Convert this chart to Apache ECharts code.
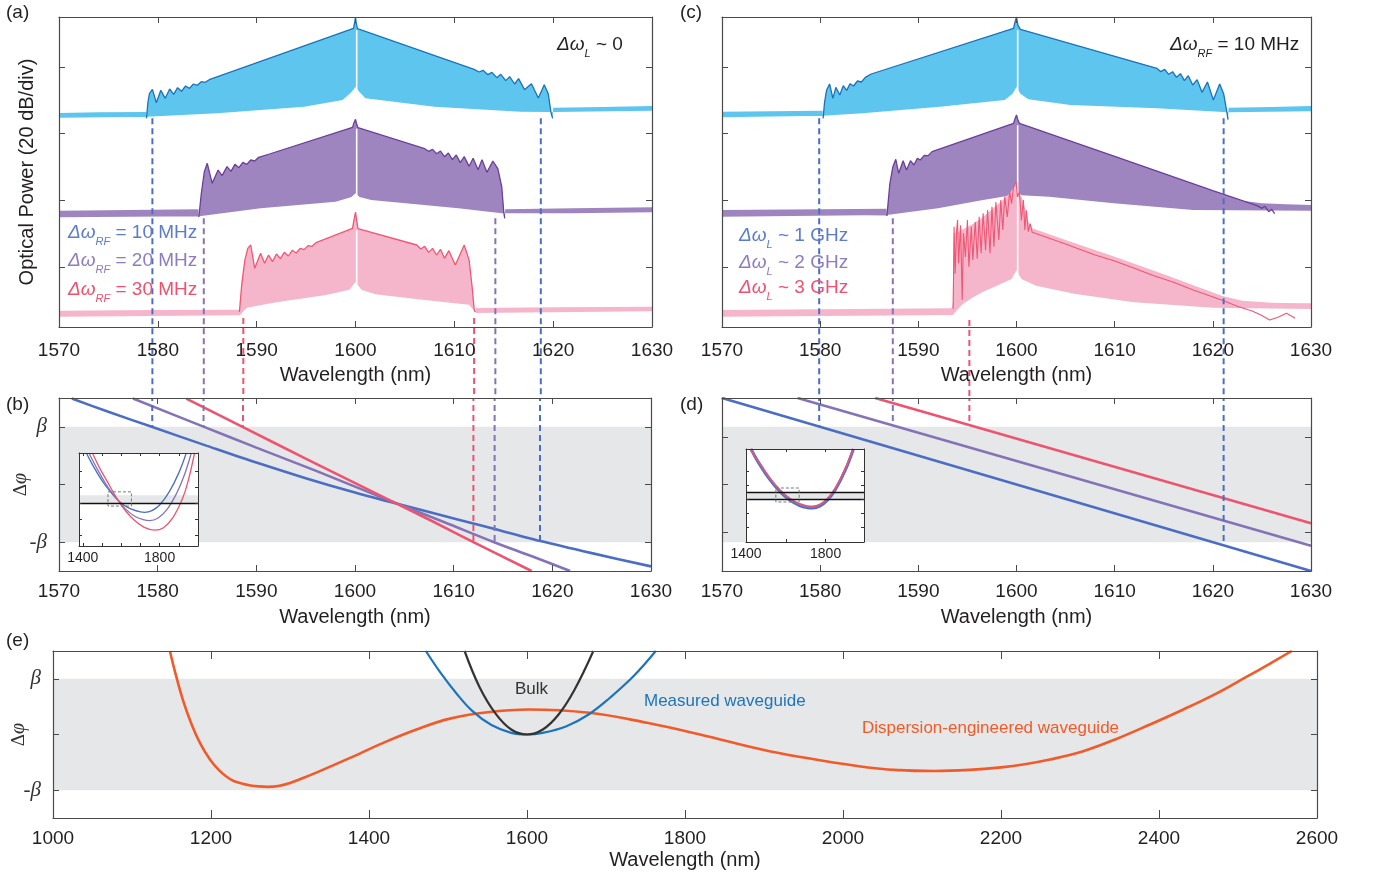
<!DOCTYPE html>
<html><head><meta charset="utf-8">
<script src="https://cdn.jsdelivr.net/npm/echarts@6/dist/echarts.min.js"></script>
<style>html,body{margin:0;padding:0;background:#fff}#c{width:1386px;height:877px}</style>
</head><body><div id="c"></div><script>
// ---------------- DATA ----------------
const wlTicks = [1570, 1580, 1590, 1600, 1610, 1620, 1630];
const eTicks = [1000, 1200, 1400, 1600, 1800, 2000, 2200, 2400, 2600];
const powTicks = [0, 20, 40, 60];            // 20 dB/div
const phiTicks = [-1, 0, 1];                 // -beta, 0, beta
const phiLabels = [-1, 1];
const dPhiTicks = [-0.82, 0, 0.82];
const insetTicksB = [1400, 1500, 1600, 1700, 1800, 1900];
const insetTicksD = [1600, 1800];
const insetLabels = [1400, 1800];
const insetYTicks = [-4, -2, 0, 2, 4];

// (a) spectra [wavelength nm, dB]
const cyanTopLA = [[1570,46.2],[1574,46.4],[1578.8,46.5]];
const cyanEnvA = [[1578.85,44.6],[1579.0,49.5],[1579.15,52.0],[1579.45,53.3],[1579.85,49.3],[1580.3,53.0],[1580.75,50.6],[1581.2,53.4],[1581.6,51.8],[1582.0,53.8],[1582.4,52.7],[1582.8,54.3],[1583.2,53.6],[1583.6,54.9],[1584.0,54.5],[1584.4,55.6],[1584.8,55.4],[1585.2,56.2],[1599.8,71.6],[1599.93,73.6],[1600.0,75.0],[1600.07,73.2],[1600.2,71.5],[1612.0,59.3],[1612.5,58.5],[1612.9,59.0],[1613.4,57.7],[1613.8,58.4],[1614.3,56.8],[1614.7,57.8],[1615.2,55.9],[1615.6,57.1],[1616.1,54.9],[1616.5,56.5],[1617.1,53.2],[1617.8,55.0],[1618.5,50.7],[1619.1,54.7],[1619.5,52.0],[1619.8,46.0],[1619.95,44.6]];
const cyanTopRA = [[1620.0,47.8],[1625,48.0],[1630,48.3]];
const cyanFloorA = [[1570,44.8],[1578.9,45.1],[1586,46.1],[1594.8,48.1],[1598.7,50.1],[1599.6,52.5],[1600,54],[1600.4,52.5],[1601,50.6],[1608,48.1],[1616.7,46.6],[1620,46.5],[1630,46.9]];
const cyanGapA = [[1600.12,51],[1600.12,71]];

const purpleTopLA = [[1570,16.9],[1577,17.1],[1584.1,17.3]];
const purpleEnvA = [[1584.15,15.0],[1584.4,22],[1584.7,28.5],[1585.0,31.1],[1585.5,25.1],[1586.1,29.1],[1586.5,27.4],[1587.0,30.1],[1587.4,28.7],[1587.8,30.8],[1588.2,29.8],[1588.6,31.4],[1589.0,30.8],[1589.4,32.1],[1589.8,31.8],[1590.2,32.9],[1591.3,33.9],[1599.7,41.9],[1599.85,43.3],[1600.0,44.3],[1600.12,42.8],[1600.25,41.8],[1607.0,35.5],[1607.4,34.7],[1607.8,35.3],[1608.2,34.0],[1608.6,34.8],[1609.0,33.1],[1609.4,34.2],[1609.8,32.2],[1610.2,33.6],[1610.6,31.3],[1611.0,33.1],[1611.5,30.2],[1611.9,32.6],[1612.4,29.2],[1612.8,32.2],[1613.3,28.4],[1613.9,31.8],[1614.4,29.5],[1614.8,24.0],[1615.0,16.5],[1615.1,14.6]];
const purpleTopRA = [[1615.15,17.3],[1622,17.6],[1630,17.9]];
const purpleFloorA = [[1570,14.9],[1584.2,15.2],[1590.4,17.6],[1598,19.6],[1599.6,21],[1600,22.1],[1600.4,21],[1601.6,20.1],[1610.4,17.6],[1614.8,16.1],[1622,16.1],[1630,16.4]];
const purpleGapA = [[1600.12,21],[1600.12,41.5]];

const pinkTopLA = [[1570,-13.1],[1580,-12.9],[1588.2,-12.8]];
const pinkEnvA = [[1588.25,-13.5],[1588.5,-5],[1588.8,2],[1589.1,5.6],[1589.4,6.6],[1589.8,-0.4],[1590.4,4.1],[1590.8,1.1],[1591.2,3.6],[1591.6,1.6],[1592.0,3.9],[1592.4,2.5],[1592.8,4.4],[1593.2,3.3],[1593.6,5.0],[1594.0,4.2],[1594.4,5.6],[1594.8,5.2],[1595.2,6.4],[1595.6,6.2],[1596.0,7.3],[1599.7,11.6],[1599.87,14.5],[1600.0,16.5],[1600.12,14],[1600.25,11.5],[1606.2,6.6],[1606.6,5.4],[1607.0,6.2],[1607.4,4.4],[1607.8,5.6],[1608.2,3.6],[1608.6,5.3],[1609.0,2.6],[1609.45,4.9],[1610.1,0.6],[1611.0,6.6],[1611.5,2.0],[1611.8,-6.0],[1612.0,-12.5],[1612.1,-13.5]];
const pinkTopRA = [[1612.2,-12.3],[1620,-12.1],[1630,-11.9]];
const pinkFloorA = [[1570,-14.9],[1588.3,-14.5],[1589.0,-12.2],[1592,-10.6],[1597,-8.4],[1599.4,-6.8],[1600,-4.5],[1600.6,-6.8],[1602,-8.2],[1607,-9.9],[1611.5,-11.3],[1612.2,-13.8],[1630,-13.3]];
const pinkGapA = [[1600.12,-5.5],[1600.12,11]];

// (c) spectra
const cyanTopLC = [[1570,46.6],[1575,46.7],[1580.25,46.9]];
const cyanEnvC = [[1580.3,44.6],[1580.45,49.5],[1580.65,53],[1580.96,54.9],[1581.3,50.6],[1581.6,53.9],[1582.0,51.6],[1582.35,54.4],[1582.7,53.0],[1583.05,55.0],[1583.4,54.3],[1583.8,55.8],[1584.2,55.5],[1584.6,56.9],[1585.2,57.9],[1599.7,71.6],[1599.85,73.5],[1600.0,75.0],[1600.15,72.5],[1600.4,71.3],[1614.3,59.6],[1614.7,58.6],[1615.1,59.3],[1615.5,57.8],[1615.9,58.6],[1616.3,56.9],[1616.7,58.0],[1617.1,55.9],[1617.5,57.4],[1617.95,54.6],[1618.4,56.2],[1618.9,52.4],[1619.45,55.5],[1620.05,50.1],[1620.7,54.9],[1621.1,52.0],[1621.4,47.0],[1621.55,44.2]];
const cyanTopRC = [[1621.6,47.8],[1626,48.0],[1630,48.3]];
const cyanFloorC = [[1570,44.9],[1580.3,45.4],[1584.3,46.1],[1592.2,48.1],[1598.8,50.1],[1599.6,52],[1600,54],[1600.4,52],[1601.2,50.3],[1605.5,48.6],[1614.3,47.6],[1621.5,46.4],[1630,46.7]];
const cyanGapC = [[1600.12,51],[1600.12,71]];

const purpleTopLC = [[1570,17.1],[1580,17.3],[1586.75,17.5]];
const purpleEnvC = [[1586.8,15.3],[1587.1,25],[1587.4,30],[1587.7,32.3],[1588.0,28.1],[1588.45,31.9],[1588.8,29.1],[1589.2,31.9],[1589.55,30.6],[1589.9,32.6],[1590.2,32.1],[1590.6,33.5],[1591.0,33.4],[1591.4,34.6],[1599.7,43.1],[1599.85,44.5],[1600.0,45.6],[1600.15,44.0],[1600.3,43.1],[1610,33.2],[1620,22.9],[1624.5,18.4],[1625.0,17.6],[1625.3,18.2],[1625.7,16.6],[1626.0,17.3],[1626.3,16.0]];
const purpleTopRC = [[1623,19.9],[1625,19.1],[1627.5,18.8],[1630,18.6]];
const purpleFloorC = [[1570,15.1],[1586.8,15.6],[1592,17.6],[1596.6,20.1],[1599.5,21.5],[1600,23.1],[1600.5,21.5],[1603.3,21.1],[1609.9,19.1],[1618,17.1],[1630,16.9]];
const purpleGapC = [[1600.12,22],[1600.12,42.5]];

const pinkTopLC = [[1570,-12.9],[1580,-12.7],[1593.4,-12.4]];
const pinkFillTopC = [[1593.5,-10.5],[1593.6,10],[1594.5,11.2],[1595.5,12.8],[1596.5,14.8],[1597.5,17.3],[1598.5,19.8],[1599.3,22.2],[1599.8,24.2],[1599.95,25.6],[1600.1,22.8],[1600.6,20.5],[1601.2,13.8],[1601.6,11.6],[1605,8.1],[1610,3.1],[1615,-2.2],[1620.9,-8.6],[1623,-10.1],[1626,-10.7]];
const pinkTopRC = [[1627,-10.8],[1630,-10.9]];
const pinkEnvC = [[1593.55,-12.5],[1593.64,12.1],[1593.75,-2.0],[1593.9,11.0],[1594.0,14.1],[1594.1,1.1],[1594.3,12.5],[1594.47,-9.9],[1594.6,10.1],[1594.8,3.0],[1595.0,14.1],[1595.15,0.1],[1595.4,12.1],[1595.55,2.1],[1595.8,13.5],[1596.0,2.5],[1596.2,15.1],[1596.4,4.1],[1596.6,16.1],[1596.85,5.0],[1597.05,17.1],[1597.3,4.1],[1597.5,18.1],[1597.7,6.1],[1597.9,19.5],[1598.2,8.1],[1598.4,20.1],[1598.6,11.1],[1598.8,21.1],[1599.06,15.0],[1599.3,22.6],[1599.5,19.0],[1599.7,24.1],[1599.95,25.6],[1600.1,21.0],[1600.3,22.6],[1600.5,14.0],[1600.7,20.1],[1600.85,11.1],[1601.0,17.0],[1601.2,10.6],[1601.4,13.0],[1601.6,10.4],[1605,6.9],[1608,3.6],[1610,1.8],[1612,-0.4],[1614,-2.6],[1616,-4.6],[1618,-6.9],[1620.9,-9.9],[1622.5,-11.8],[1624,-13.2],[1624.9,-14.4],[1625.8,-15.9],[1626.7,-15.0],[1627.5,-13.9],[1628.4,-15.4]];
const pinkFloorC = [[1570,-14.9],[1593.5,-14.4],[1594.5,-11.2],[1595.5,-9.2],[1596.5,-7.6],[1598,-5.6],[1599.5,-3.6],[1600,-1],[1600.5,-3.6],[1602,-5.6],[1606,-8.1],[1612,-10.6],[1620,-12.2],[1630,-12.6]];
const pinkGapC = [[1600.12,-2],[1600.12,22]];

// dashed guide lines: [wavelength, start level in (a)/(c) dB, end level in (b)/(d) beta units]
const guidesAB = [
  {c:'blue',   wl:1579.45, from:44.6,  to:1.0},
  {c:'blue',   wl:1618.75, from:44.6,  to:-1.0},
  {c:'purple', wl:1584.65, from:14.6,  to:1.0},
  {c:'purple', wl:1614.15, from:14.6,  to:-1.0},
  {c:'pink',   wl:1588.65, from:-15.3, to:1.0},
  {c:'pink',   wl:1612.0,  from:-15.3, to:-1.0}
];
const guidesCD = [
  {c:'blue',   wl:1579.9, from:44.6,  to:1.0},
  {c:'blue',   wl:1621.1, from:44.6,  to:-1.0},
  {c:'purple', wl:1587.4, from:14.6,  to:1.03},
  {c:'pink',   wl:1595.2, from:-15.9, to:1.03}
];

// (b) phase mismatch lines [nm, beta units]
const blueB = [[1571.3,1.49],[1575,1.26],[1579.4,1.0],[1585,0.67],[1590,0.38],[1595,0.11],[1600,-0.14],[1603.5,-0.3],[1608,-0.5],[1613,-0.72],[1618.8,-0.98],[1624,-1.19],[1630,-1.42]];
const purpleB = [[1577.5,1.49],[1584.7,1.0],[1590,0.64],[1596,0.24],[1603.5,-0.28],[1609,-0.65],[1614.1,-1.0],[1618,-1.25],[1621.8,-1.5]];
const pinkB = [[1582.9,1.49],[1588.6,1.0],[1595,0.45],[1603.5,-0.27],[1608,-0.65],[1612,-1.0],[1617.9,-1.5]];
// (b) inset
const blueBi = [[1418.5,6.3],[1450,4.83],[1500,2.83],[1550,1.24],[1587,0.25],[1620,-0.35],[1650,-0.74],[1700,-1.12],[1722,-1.16],[1760,-0.95],[1800,-0.25],[1850,1.4],[1900,3.8],[1939,6.3]];
const purpleBi = [[1432,6.3],[1470,4.5],[1520,2.4],[1560,1.05],[1587,0.25],[1620,-0.7],[1670,-1.65],[1720,-2.12],[1748,-2.2],[1790,-1.9],[1840,-0.75],[1890,1.3],[1930,3.6],[1965,6.3]];
const pinkBi = [[1450,6.3],[1490,4.3],[1530,2.6],[1560,1.3],[1587,0.25],[1620,-0.9],[1670,-2.2],[1720,-3.05],[1774,-3.4],[1820,-3.1],[1870,-1.8],[1920,0.6],[1950,2.9],[1982,6.3]];
const insetBoxB = [[1531,1.41],[1653,-0.375]];

// (d) lines
const blueD = [[1570,1.5],[1630,-1.5]];
const purpleD = [[1577.7,1.5],[1630,-1.06]];
const pinkD = [[1585.6,1.5],[1630,-0.67]];
// (d) inset
const blueDi = [[1425,7.14],[1470,4.86],[1520,2.76],[1570,1.09],[1620,-0.14],[1670,-0.93],[1710,-1.24],[1734,-1.29],[1770,-1.03],[1810,-0.14],[1850,1.38],[1900,4.19],[1940,7.14]];
const purpleDi = [[1423,7.14],[1470,4.98],[1520,2.88],[1570,1.21],[1620,-0.02],[1670,-0.81],[1710,-1.12],[1734,-1.17],[1770,-0.91],[1810,-0.02],[1850,1.5],[1900,4.31],[1939,7.14]];
const pinkDi = [[1421,7.14],[1470,5.11],[1520,3.01],[1570,1.34],[1620,0.11],[1670,-0.68],[1710,-0.99],[1734,-1.04],[1770,-0.78],[1810,0.11],[1850,1.63],[1900,4.44],[1938,7.14]];
const insetBoxD = [[1550,1.57],[1667,-0.43]];

// (e) curves
const bulkE = [[1521,1.5],[1540,0.85],[1560,0.38],[1580,0.09],[1600,0],[1620,0.09],[1640,0.36],[1660,0.8],[1684,1.5]];
const measuredE = [[1472,1.5],[1490,1.12],[1510,0.75],[1531,0.42],[1555,0.17],[1580,0.03],[1600,0],[1620,0.03],[1650,0.15],[1678,0.36],[1705,0.66],[1735,1.05],[1763,1.5]];
const engineeredE = [[1148,1.5],[1154.4,1.13],[1165,0.595],[1175.5,0.18],[1186,-0.15],[1198.7,-0.45],[1211,-0.655],[1220,-0.76],[1228,-0.83],[1240,-0.885],[1250,-0.915],[1260,-0.932],[1272,-0.94],[1285,-0.925],[1300,-0.87],[1315,-0.79],[1334,-0.68],[1376,-0.42],[1418,-0.15],[1460,0.09],[1502.5,0.285],[1550,0.4],[1602,0.45],[1679,0.39],[1752,0.21],[1819,0.0],[1907,-0.30],[2020,-0.57],[2070,-0.64],[2116,-0.655],[2160,-0.635],[2200,-0.59],[2230,-0.535],[2262,-0.45],[2304,-0.30],[2346,-0.08],[2388.6,0.18],[2430.8,0.45],[2473,0.74],[2510,1.03],[2540,1.27],[2568,1.5]];

// ---------------- STYLE / LAYOUT ----------------
const FONT = "'Liberation Sans', Arial, Helvetica, sans-serif";
const SERIF = "'Liberation Serif', 'Times New Roman', serif";
const AXC = '#4a4a4a';
const TXT = '#231f20';
const C = {
  cyanFill:'#5ec5ef', cyanLine:'#1a73b8',
  purpleFill:'#9e85bf', purpleLine:'#6b3f98',
  pinkFill:'#f5b6cb', pinkLine:'#ef5775',
  blue:'#4b6ec4', purple:'#8473b6', pink:'#ec5470',
  blueT:'#5b7ccc', purpleT:'#8d7cc0', pinkT:'#f0506e',
  band:'#e6e7e8'
};
const G = [
  {left:59, top:17, width:593, height:310},
  {left:59, top:398, width:592, height:173},
  {left:722, top:17, width:589, height:310},
  {left:722, top:398, width:589, height:173},
  {left:53, top:651, width:1264, height:167},
  {left:79, top:453, width:119, height:93},
  {left:746, top:449, width:118, height:93}
];
const A_MIN = -18, A_MAX = 75;

function axisPair(dir, gi, o) {
  const pos = dir === 'x' ? ['bottom', 'top'] : ['left', 'right'];
  return pos.map(function (p, k) {
    const a = {
      type: 'value', gridIndex: gi, position: p, min: o.min, max: o.max, z: o.z || 10, silent: true,
      splitLine: {show: false},
      axisLine: {show: true, onZero: false, lineStyle: {color: o.lc || AXC, width: o.lw || 1.2}},
      axisTick: {show: true, inside: true, length: o.tl || 6, customValues: o.ticks,
                 lineStyle: {color: o.lc || AXC, width: 1}},
      axisLabel: {show: false}
    };
    if (k === 0 && o.labels) {
      a.axisLabel = {show: true, customValues: o.labels, margin: o.margin, fontSize: o.fs || 19,
        color: TXT, fontFamily: FONT, formatter: o.fmt || function (v) { return String(v); }, rich: o.rich};
    }
    if (k === 0 && o.name) {
      a.name = o.name; a.nameLocation = 'middle'; a.nameGap = o.nameGap;
      if (dir === 'y') a.nameMoveOverlap = false;
      a.nameTextStyle = Object.assign({fontSize: 20, color: TXT, fontFamily: FONT}, o.nameStyle || {});
    }
    return a;
  });
}
const betaFmt = function (v) { return v > 0 ? '{b|β}' : '{b|-β}'; };
const betaRich = {b: {fontFamily: SERIF, fontStyle: 'italic', fontSize: 21, color: '#333'}};
const dphiName = '{a|Δ}{b|φ}';
const dphiStyle = {rich: {a: {fontFamily: SERIF, fontSize: 19, color: '#333'}, b: {fontFamily: SERIF, fontStyle: 'italic', fontSize: 20, color: '#333'}}};

const xAxis = [].concat(
  axisPair('x', 0, {min: 1570, max: 1630, ticks: wlTicks, labels: wlTicks, margin: 14, name: 'Wavelength (nm)', nameGap: 38}),
  axisPair('x', 1, {min: 1570, max: 1630, ticks: wlTicks, labels: wlTicks, margin: 11, name: 'Wavelength (nm)', nameGap: 36}),
  axisPair('x', 2, {min: 1570, max: 1630, ticks: wlTicks, labels: wlTicks, margin: 14, name: 'Wavelength (nm)', nameGap: 38}),
  axisPair('x', 3, {min: 1570, max: 1630, ticks: wlTicks, labels: wlTicks, margin: 11, name: 'Wavelength (nm)', nameGap: 36}),
  axisPair('x', 4, {min: 1000, max: 2600, ticks: eTicks, labels: eTicks, margin: 11, tl: 8, name: 'Wavelength (nm)', nameGap: 32}),
  axisPair('x', 5, {min: 1380, max: 2000, ticks: insetTicksB, labels: insetLabels, margin: 5, fs: 14, tl: 3, lc: '#333', lw: 1, z: 12}),
  axisPair('x', 6, {min: 1400, max: 1993, ticks: insetTicksD, labels: insetLabels, margin: 5, fs: 14, tl: 3, lc: '#333', lw: 1, z: 12})
);
const yAxis = [].concat(
  axisPair('y', 0, {min: A_MIN, max: A_MAX, ticks: powTicks, name: 'Optical Power (20 dB/div)', nameGap: 22}),
  axisPair('y', 1, {min: -1.5, max: 1.5, ticks: phiTicks, labels: phiLabels, margin: 12, fmt: betaFmt, rich: betaRich,
                    name: dphiName, nameGap: 28, nameStyle: dphiStyle}),
  axisPair('y', 2, {min: A_MIN, max: A_MAX, ticks: powTicks}),
  axisPair('y', 3, {min: -1.5, max: 1.5, ticks: dPhiTicks}),
  axisPair('y', 4, {min: -1.5, max: 1.5, ticks: phiTicks, labels: phiLabels, margin: 12, fmt: betaFmt, rich: betaRich,
                    name: dphiName, nameGap: 24, nameStyle: dphiStyle}),
  axisPair('y', 5, {min: -5.4, max: 6.3, ticks: insetYTicks, tl: 3, lc: '#333', lw: 1, z: 12}),
  axisPair('y', 6, {min: -6.14, max: 7.14, ticks: insetYTicks, tl: 3, lc: '#333', lw: 1, z: 12})
);

const series = [];
function lineS(gi, data, color, width, z, extra) {
  series.push(Object.assign({type: 'line', xAxisIndex: 2 * gi, yAxisIndex: 2 * gi, data: data, symbol: 'none',
    showSymbol: false, silent: true, animation: false, z: z, lineStyle: {color: color, width: width}}, extra || {}));
}
function bandS(gi, lo, hi, color, z) {
  series.push({type: 'line', xAxisIndex: 2 * gi, yAxisIndex: 2 * gi, data: [], symbol: 'none', silent: true, z: z,
    markArea: {silent: true, z: z, itemStyle: {color: color}, data: [[{yAxis: lo}, {yAxis: hi}]]}});
}
function fillS(gi, topL, mid, topR, floor, color, z) {
  const lo = topL[topL.length - 1][0], hi = topR[0][0];
  const top = topL.concat(mid.filter(function (p) { return p[0] > lo && p[0] < hi; }), topR);
  const poly = top.concat(floor.slice().reverse());
  series.push({type: 'custom', xAxisIndex: 2 * gi, yAxisIndex: 2 * gi, z: z, silent: true, animation: false,
    data: [poly[0]],
    renderItem: function (params, api) {
      return {type: 'polygon', shape: {points: poly.map(function (d) { return api.coord(d); })},
              style: {fill: color}};
    }});
}

// --- (a) and (c) spectra ---
[
  [0, cyanTopLA, cyanEnvA, cyanTopRA, cyanFloorA, cyanGapA, 'cyan'],
  [0, purpleTopLA, purpleEnvA, purpleTopRA, purpleFloorA, purpleGapA, 'purple'],
  [0, pinkTopLA, pinkEnvA, pinkTopRA, pinkFloorA, pinkGapA, 'pink'],
  [2, cyanTopLC, cyanEnvC, cyanTopRC, cyanFloorC, cyanGapC, 'cyan'],
  [2, purpleTopLC, purpleEnvC, purpleTopRC, purpleFloorC, purpleGapC, 'purple']
].forEach(function (t) {
  fillS(t[0], t[1], t[2], t[3], t[4], C[t[6] + 'Fill'], 2);
  lineS(t[0], t[5], '#ffffff', 1.6, 3);
  lineS(t[0], t[2], C[t[6] + 'Line'], 1.3, 4);
});
fillS(2, pinkTopLC, pinkFillTopC, pinkTopRC, pinkFloorC, C.pinkFill, 2);
lineS(2, pinkGapC, '#ffffff', 1.6, 3);
lineS(2, pinkEnvC, C.pinkLine, 1.1, 4);

// --- gray bands ---
bandS(1, -1, 1, C.band, 1);
bandS(3, -1, 1, C.band, 1);
bandS(4, -1, 1, C.band, 1);

// --- (b) and (d) lines ---
lineS(1, blueB, C.blue, 2.6, 3, {smooth: 0.3});
lineS(1, purpleB, C.purple, 2.6, 3, {smooth: 0.3});
lineS(1, pinkB, C.pink, 2.6, 3, {smooth: 0.3});
lineS(3, blueD, C.blue, 2.6, 3);
lineS(3, purpleD, C.purple, 2.6, 3);
lineS(3, pinkD, C.pink, 2.6, 3);

// --- dashed guides crossing from spectra to phase panels ---
function guides(list, giTop, giBot) {
  const gT = G[giTop], gB = G[giBot];
  const ext = A_MIN - (gB.top - (gT.top + gT.height)) * (A_MAX - A_MIN) / gT.height;
  list.forEach(function (g) {
    const col = C[g.c];
    lineS(giTop, [[g.wl, g.from], [g.wl, ext]], col, 2, 8, {clip: false, lineStyle: {color: col, width: 2, type: [6, 4]}});
    lineS(giBot, [[g.wl, 1.5], [g.wl, g.to]], col, 2, 8, {clip: false, lineStyle: {color: col, width: 2, type: [6, 4], dashOffset: 3}});
  });
}
guides(guidesAB, 0, 1);
guides(guidesCD, 2, 3);

// --- insets ---
function inset(gi, blue, purple, pink, box, lines, widths) {
  bandS(gi, 0, 1, C.band, 6);
  series.push({type: 'line', xAxisIndex: 2 * gi, yAxisIndex: 2 * gi, data: [], symbol: 'none', silent: true, z: 8,
    markLine: {silent: true, z: 8, symbol: ['none', 'none'], label: {show: false},
      lineStyle: {color: '#111', width: 1.3, type: 'solid'},
      data: lines.map(function (v) { return {yAxis: v}; })},
    markArea: {silent: true, z: 9, itemStyle: {color: 'rgba(0,0,0,0)', borderColor: '#777', borderWidth: 1, borderType: [3, 2]},
      data: [[{xAxis: box[0][0], yAxis: box[0][1]}, {xAxis: box[1][0], yAxis: box[1][1]}]]}});
  lineS(gi, blue, C.blue, widths[0], 7, {smooth: 0.4});
  lineS(gi, purple, C.purple, widths[1], 7, {smooth: 0.4});
  lineS(gi, pink, C.pink, widths[2], 7, {smooth: 0.4});
}
inset(5, blueBi, purpleBi, pinkBi, insetBoxB, [0], [1.3, 1.3, 1.3]);
inset(6, blueDi, purpleDi, pinkDi, insetBoxD, [0, 1], [3, 2, 1.4]);

// --- (e) ---
lineS(4, engineeredE, '#f15a29', 2.6, 3, {smooth: 0.4});
lineS(4, measuredE, '#1c75bc', 2.2, 4, {smooth: 0.4});
lineS(4, bulkE, '#333333', 2.2, 5, {smooth: 0.4});

// --- texts ---
function dwRich(color) {
  return {
    d: {fontFamily: FONT, fontStyle: 'italic', fontSize: 19, fill: color, color: color, lineHeight: 30},
    s: {fontFamily: FONT, fontStyle: 'italic', fontSize: 11, fill: color, color: color, lineHeight: 12, verticalAlign: 'bottom'},
    n: {fontFamily: FONT, fontSize: 19, fill: color, color: color, lineHeight: 30}
  };
}
function rt(left, top, text, color) {
  return {type: 'text', left: left, top: top, silent: true, z: 20, style: {text: text, rich: dwRich(color), fill: color}};
}
function pt(left, top, text, color, size) {
  return {type: 'text', left: left, top: top, silent: true, z: 20,
    style: {text: text, fill: color, font: (size || 19) + 'px ' + FONT}};
}
const graphics = [
  pt(6, 3, '(a)', TXT), pt(6, 395, '(b)', TXT), pt(680, 3, '(c)', TXT), pt(680, 395, '(d)', TXT), pt(6, 631, '(e)', TXT),
  rt(557, 35, '{d|Δω}{s|L}{n| ~ 0}', TXT),
  rt(1170, 35, '{d|Δω}{s|RF}{n| = 10 MHz}', TXT),
  rt(68, 223, '{d|Δω}{s|RF}{n| = 10 MHz}', C.blueT),
  rt(68, 251, '{d|Δω}{s|RF}{n| = 20 MHz}', C.purpleT),
  rt(68, 280, '{d|Δω}{s|RF}{n| = 30 MHz}', C.pinkT),
  rt(739, 226, '{d|Δω}{s|L}{n| ~ 1 GHz}', C.blueT),
  rt(739, 253, '{d|Δω}{s|L}{n| ~ 2 GHz}', C.purpleT),
  rt(739, 278, '{d|Δω}{s|L}{n| ~ 3 GHz}', C.pinkT),
  pt(515, 681, 'Bulk', '#333333', 17),
  pt(644, 693, 'Measured waveguide', '#1c75bc', 17),
  pt(862, 720, 'Dispersion-engineered waveguide', '#f15a29', 17)
];

const option = {
  animation: false,
  textStyle: {fontFamily: FONT},
  grid: G.map(function (g, i) {
    return Object.assign({containLabel: false, outerBoundsMode: 'none', show: i >= 5, backgroundColor: '#ffffff',
      borderWidth: 0, z: i >= 5 ? 5 : 0}, g);
  }),
  xAxis: xAxis,
  yAxis: yAxis,
  series: series,
  graphic: {elements: graphics}
};
const chart = echarts.init(document.getElementById('c'), null, {renderer: 'canvas', width: 1386, height: 877});
chart.setOption(option);
</script></body></html>
